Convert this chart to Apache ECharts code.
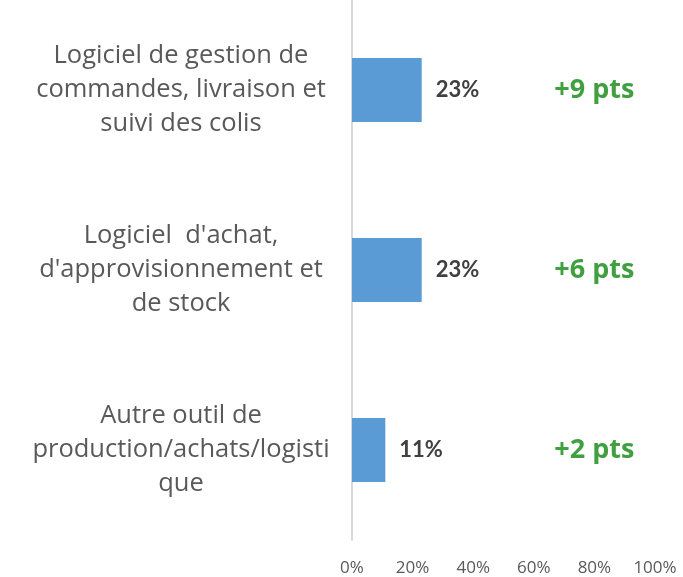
<!DOCTYPE html>
<html><head><meta charset="utf-8">
<script src="https://cdn.jsdelivr.net/npm/echarts@6/dist/echarts.min.js"></script>
<style>html,body{margin:0;padding:0;background:#fff}#c{width:683px;height:577px}</style>
</head><body><div id="c"></div>
<script>
var categories = ["Logiciel de gestion de\ncommandes, livraison et\nsuivi des colis", "Logiciel  d'achat,\nd'approvisionnement et\nde stock", "Autre outil de\nproduction/achats/logisti\nque"];
var values = [23, 23, 11];
var deltas = ["+9 pts", "+6 pts", "+2 pts"];
var deltaPos = [80, 80, 80];
var xTicks = [0, 20, 40, 60, 80, 100];

var chart = echarts.init(document.getElementById('c'), null, {renderer: 'canvas'});
chart.setOption({
  animation: false,
  grid: {left: 352, right: 28, top: -4, bottom: 37, containLabel: false},
  xAxis: {
    type: 'value', min: 0, max: 100, interval: 20,
    axisLine: {show: false}, axisTick: {show: false}, splitLine: {show: false},
    axisLabel: {formatter: function(v){return v + '%';}, color: '#595959', fontSize: 17, fontFamily: 'Open Sans', margin: 20}
  },
  yAxis: {
    type: 'category', inverse: true, data: categories,
    axisLine: {show: true, lineStyle: {color: '#d9d9d9', width: 2}},
    axisTick: {show: false},
    axisLabel: {color: '#595959', fontSize: 25.5, fontWeight: 'normal', fontFamily: 'Open Sans', align: 'center', margin: 171, lineHeight: 34}
  },
  series: [{
    type: 'bar', data: values, barWidth: 64,
    itemStyle: {color: '#5B9BD5'},
    label: {show: true, position: 'right', distance: 14, formatter: '{c}%', color: '#404040', fontSize: 22, fontWeight: 'bold', fontFamily: 'Lato'}
  }, {
    type: 'scatter', data: deltaPos, symbolSize: 0, silent: true,
    label: {show: true, position: 'inside', formatter: function(p){return deltas[p.dataIndex];}, color: '#108810', fontSize: 27, fontWeight: 'bold', fontFamily: 'Open Sans'}
  }]
});
</script></body></html>
